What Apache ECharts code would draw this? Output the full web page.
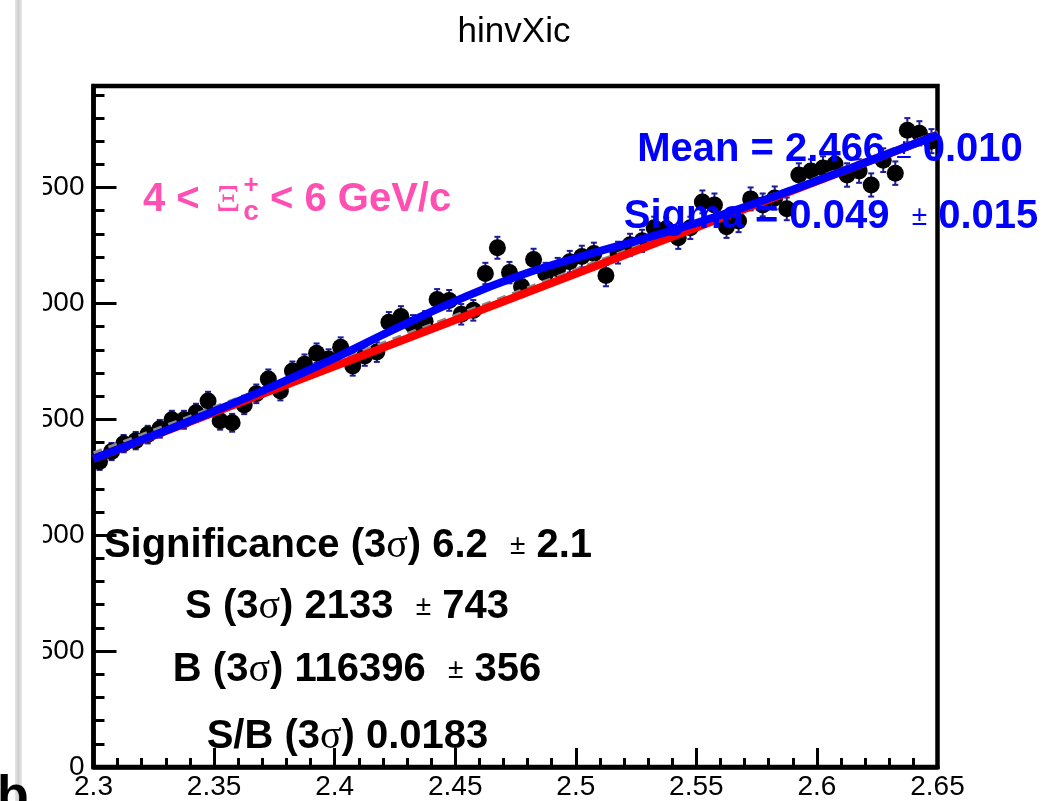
<!DOCTYPE html>
<html>
<head>
<meta charset="utf-8">
<script src="https://cdn.jsdelivr.net/npm/echarts@6/dist/echarts.min.js"></script>
<style>html,body{margin:0;padding:0;background:#fff;}#c{width:1051px;height:801px;}</style>
</head>
<body>
<div id="c"></div>
<script>
// ---- data ----
const binStart = 2.3;
const binWidth = 0.005;
const counts = [1318,1361,1395,1408,1434,1459,1498,1498,1528,1579,
                1494,1485,1562,1610,1674,1622,1708,1738,1785,1760,
                1811,1730,1773,1790,1919,1944,1906,1923,2017,2013,
                1953,1970,2129,2240,2133,2073,2189,2129,2150,2180,
                2202,2215,2120,2219,2253,2270,2326,2322,2283,2326,
                2438,2425,2331,2356,2451,2425,2455,2408,2554,2571,
                2584,2601,2554,2571,2511,2618,2562,2747,2734,2700];
const totalFitX = [2.300,2.325,2.350,2.375,2.400,2.425,2.450,2.475,2.500,2.525,2.550,2.575,2.600,2.625,2.650];
const totalFitY = [1330,1431,1535,1645,1764,1890,2010,2114,2196,2270,2347,2434,2529,2627,2727];
const bgFitX = [2.30,2.40,2.50,2.60,2.65];
const bgFitY = [1330,1729,2128,2527,2727];
const sideFitX = [2.30,2.65];
const sideFitY = [1355,2740];
const xTickLabels = ['2.3','2.35','2.4','2.45','2.5','2.55','2.6','2.65'];
const yTickLabels = ['0','500','1000','1500','2000','2500'];

// ---- build ----
const points = counts.map((v,i)=>[+(binStart + binWidth*(i+0.5)).toFixed(4), v]);
const zip = (xs,ys)=>xs.map((x,i)=>[x,ys[i]]);
const FONT = '"Liberation Sans", Arial, Helvetica, sans-serif';
const SERIF = '"Liberation Serif", "DejaVu Serif", serif';
const pink = '#ff4fb2';

const chart = echarts.init(document.getElementById('c'), null, {renderer:'canvas'});
const option = {
  animation:false,
  backgroundColor:'#fff',
  grid:{left:93.5, right:113.5, top:86, bottom:30.5, show:true, borderColor:'#000', borderWidth:4.5, backgroundColor:'transparent'},
  xAxis:{
    type:'value', min:2.3, max:2.65, interval:0.05,
    axisLine:{show:true, onZero:false, lineStyle:{color:'#000', width:4.5}},
    axisTick:{show:true, inside:true, length:19, lineStyle:{color:'#000', width:3}},
    minorTick:{show:true, splitNumber:5, length:9, lineStyle:{color:'#000', width:3}},
    splitLine:{show:false},
    axisLabel:{show:true, margin:6, color:'#000', fontFamily:FONT, fontSize:28,
      formatter:(v)=>{const s=xTickLabels.find(t=>Math.abs(parseFloat(t)-v)<1e-6); return s||'';}}
  },
  yAxis:[{
    type:'value', min:0, max:2938, interval:500, position:'left',
    axisLine:{show:true, onZero:false, lineStyle:{color:'#000', width:4.5}},
    axisTick:{show:true, inside:true, length:23, lineStyle:{color:'#000', width:3}},
    splitLine:{show:false},
    axisLabel:{show:true, margin:9, color:'#000', fontFamily:FONT, fontSize:28, showMaxLabel:false,
      formatter:(v)=>{const s=yTickLabels.find(t=>Math.abs(parseFloat(t)-v)<1e-6); return s||'';}}
  },{
    type:'value', min:0, max:2938, interval:100, position:'left', offset:0,
    axisLine:{show:false},
    axisTick:{show:true, inside:true, length:11, lineStyle:{color:'#000', width:3}},
    splitLine:{show:false},
    axisLabel:{show:false}
  }],
  series:[
    {
      type:'custom', xAxisIndex:0, yAxisIndex:0, z:2,
      data:points,
      renderItem:(params, api)=>{
        const x = api.value(0), v = api.value(1), e = Math.sqrt(v);
        const top = api.coord([x, v+e]), bot = api.coord([x, v-e]);
        const st = {stroke:'#1c1c9a', lineWidth:2};
        return {type:'group', children:[
          {type:'line', shape:{x1:top[0], y1:top[1], x2:bot[0], y2:bot[1]}, style:st},
          {type:'line', shape:{x1:top[0]-3, y1:top[1], x2:top[0]+3, y2:top[1]}, style:st},
          {type:'line', shape:{x1:bot[0]-3, y1:bot[1], x2:bot[0]+3, y2:bot[1]}, style:st}
        ]};
      }
    },
    {type:'scatter', data:points, symbol:'circle', symbolSize:17, itemStyle:{color:'#000', opacity:1}, z:3, silent:true},
    {type:'line', data:zip(sideFitX, sideFitY), showSymbol:false, z:4, lineStyle:{color:'#8c8c8c', width:3, type:[9,7]}, silent:true},
    {type:'line', data:zip(bgFitX, bgFitY), showSymbol:false, z:5, lineStyle:{color:'#ff0000', width:8}, silent:true},
    {type:'line', data:zip(totalFitX, totalFitY), showSymbol:false, smooth:true, z:6, lineStyle:{color:'#0000ff', width:8}, silent:true}
  ],
  graphic:[
    {type:'rect', z:100, shape:{x:15, y:0, width:7, height:801},
     style:{fill:new echarts.graphic.LinearGradient(0,0,1,0,[{offset:0,color:'#e6e6e6'},{offset:0.5,color:'#cfcfcf'},{offset:1,color:'#e9e9e9'}])}},
    {type:'rect', z:100, shape:{x:22, y:0, width:21, height:801}, style:{fill:'#fff'}},
    {type:'text', z:101, x:-3, y:824, style:{text:'b', font:'bold 52px '+FONT, fill:'#000', align:'left', verticalAlign:'bottom'}},
    {type:'text', z:101, x:514, y:32, style:{text:'hinvXic', font:'35px '+FONT, fill:'#000', align:'center', verticalAlign:'middle'}},
    {type:'text', z:101, x:143, y:200, style:{text:'4 <', font:'bold 40px '+FONT, fill:pink, align:'left', verticalAlign:'middle'}},
    {type:'text', z:101, x:216, y:201, style:{text:'Ξ', fontSize:38, fontFamily:'Liberation Serif', fontWeight:'normal', fill:pink, align:'left', verticalAlign:'middle'}},
    {type:'text', z:101, x:251, y:186, style:{text:'+', font:'bold 26px '+FONT, fill:pink, align:'center', verticalAlign:'middle'}},
    {type:'text', z:101, x:251, y:212, style:{text:'c', font:'bold 28px '+FONT, fill:pink, align:'center', verticalAlign:'middle'}},
    {type:'text', z:101, x:270, y:200, style:{text:'< 6 GeV/c', font:'bold 40px '+FONT, fill:pink, align:'left', verticalAlign:'middle'}},
    {type:'text', z:101, x:830, y:150, style:{text:'{b|Mean = 2.466 }{p|±}{b| 0.010}', align:'center', verticalAlign:'middle',
      rich:{b:{fontFamily:FONT, fontWeight:'bold', fontSize:40, fill:'#0000ff'}, p:{fontFamily:FONT, fontSize:28, fill:'#0000ff'}}}},
    {type:'text', z:101, x:831, y:217, style:{text:'{b|Sigma = 0.049  }{p|±}{b| 0.015}', align:'center', verticalAlign:'middle',
      rich:{b:{fontFamily:FONT, fontWeight:'bold', fontSize:40, fill:'#0000ff'}, p:{fontFamily:FONT, fontSize:28, fill:'#0000ff'}}}},
    {type:'text', z:101, x:348, y:546, style:{text:'{b|Significance (3}{s|σ}{b|) 6.2  }{p|±}{b| 2.1}', align:'center', verticalAlign:'middle',
      rich:{b:{fontFamily:FONT, fontWeight:'bold', fontSize:40, fill:'#000'}, s:{fontFamily:SERIF, fontSize:40, fill:'#000'}, p:{fontFamily:FONT, fontSize:28, fill:'#000'}}}},
    {type:'text', z:101, x:347, y:607, style:{text:'{b|S (3}{s|σ}{b|) 2133  }{p|±}{b| 743}', align:'center', verticalAlign:'middle',
      rich:{b:{fontFamily:FONT, fontWeight:'bold', fontSize:40, fill:'#000'}, s:{fontFamily:SERIF, fontSize:40, fill:'#000'}, p:{fontFamily:FONT, fontSize:28, fill:'#000'}}}},
    {type:'text', z:101, x:357, y:670, style:{text:'{b|B (3}{s|σ}{b|) 116396  }{p|±}{b| 356}', align:'center', verticalAlign:'middle',
      rich:{b:{fontFamily:FONT, fontWeight:'bold', fontSize:40, fill:'#000'}, s:{fontFamily:SERIF, fontSize:40, fill:'#000'}, p:{fontFamily:FONT, fontSize:28, fill:'#000'}}}},
    {type:'text', z:101, x:347.5, y:737, style:{text:'{b|S/B (3}{s|σ}{b|) 0.0183}', align:'center', verticalAlign:'middle',
      rich:{b:{fontFamily:FONT, fontWeight:'bold', fontSize:40, fill:'#000'}, s:{fontFamily:SERIF, fontSize:40, fill:'#000'}}}}
  ]
};
chart.setOption(option);
</script>
</body>
</html>
